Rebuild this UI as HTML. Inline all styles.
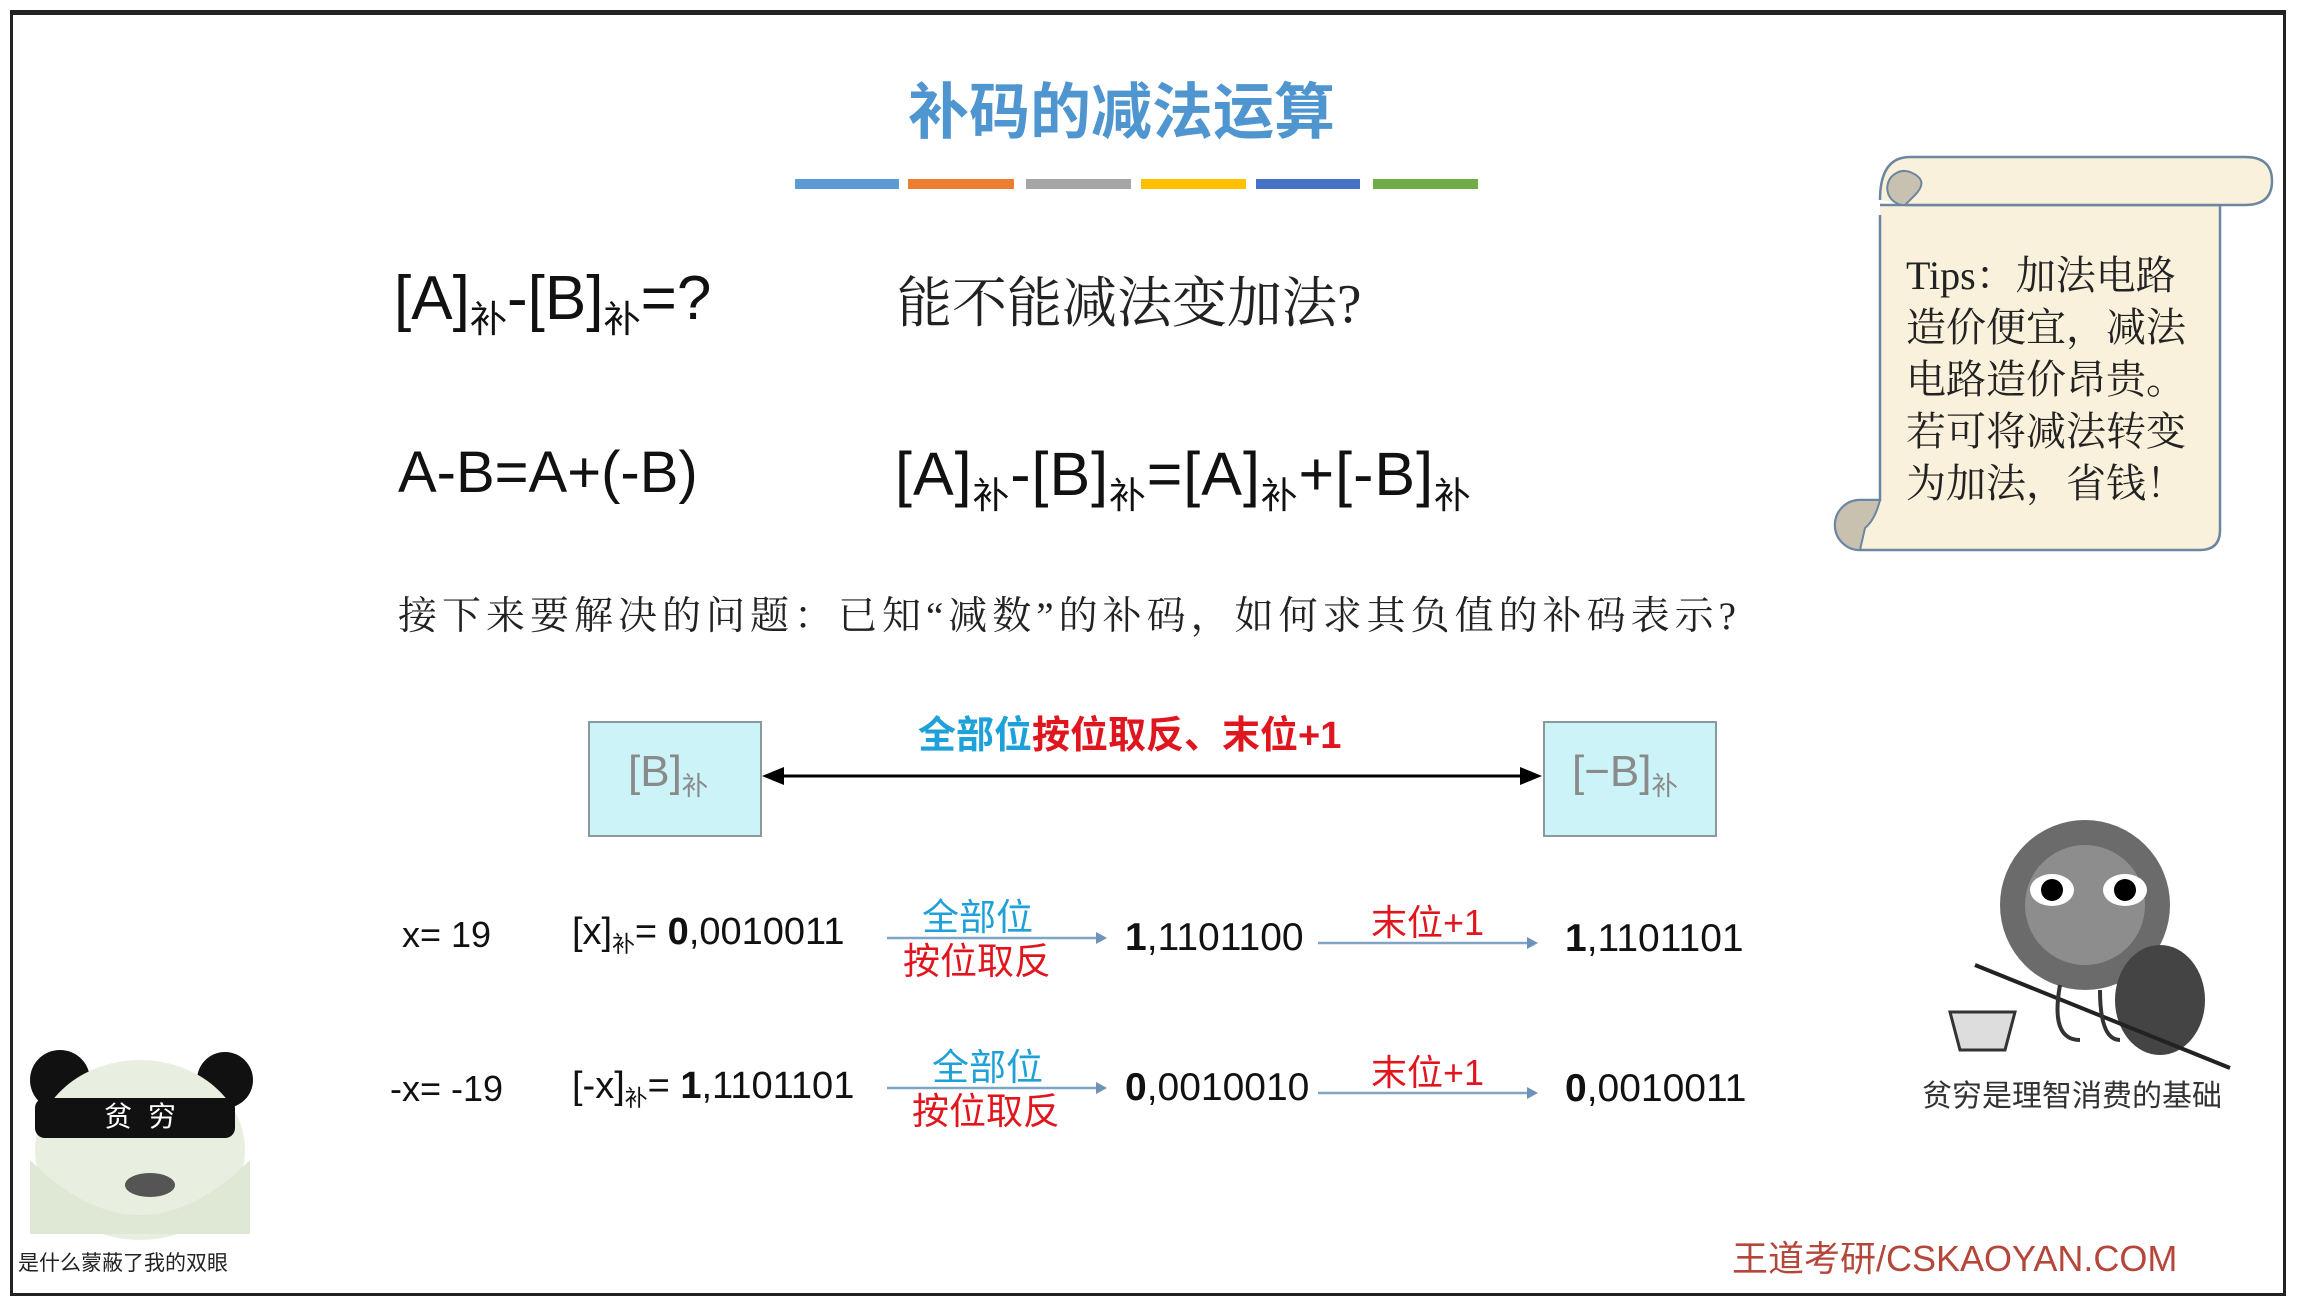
<!DOCTYPE html>
<html><head><meta charset="utf-8"><style>
body{margin:0;width:2306px;height:1300px;background:#fff;position:relative;overflow:hidden;font-family:"Liberation Sans","Noto Sans CJK SC",sans-serif;}
.a{position:absolute;white-space:nowrap;line-height:1;}
.s{font-family:"Liberation Serif","Noto Serif CJK SC",serif;}
sub{font-size:0.6em;vertical-align:-0.35em;}
.bar{position:absolute;top:179px;height:10px;}
.blue{color:#1ea0d8}.red{color:#e0161e}
</style></head><body>
<div style="position:absolute;left:10px;top:10px;width:2270px;height:1278px;border:3px solid #222;border-top-width:5px;"></div>

<div class="a" style="left:908px;top:82px;font-size:61px;color:#4f95cf;font-weight:bold;">补码的减法运算</div>
<div class="bar" style="left:795px;width:104px;background:#5b9bd5"></div>
<div class="bar" style="left:908px;width:106px;background:#ed7d31"></div>
<div class="bar" style="left:1026px;width:105px;background:#a5a5a5"></div>
<div class="bar" style="left:1141px;width:105px;background:#ffc000"></div>
<div class="bar" style="left:1256px;width:104px;background:#4472c4"></div>
<div class="bar" style="left:1373px;width:105px;background:#70ad47"></div>

<div class="a" style="left:394px;top:268px;font-size:62px;color:#111;">[A]<sub>补</sub>-[B]<sub>补</sub>=?</div>
<div class="a s" style="left:897px;top:276px;font-size:55px;color:#222;">能不能减法变加法?</div>
<div class="a" style="left:398px;top:444px;font-size:58px;color:#111;">A-B=A+(-B)</div>
<div class="a" style="left:895px;top:444px;font-size:61px;color:#111;letter-spacing:1px;">[A]<sub>补</sub>-[B]<sub>补</sub>=[A]<sub>补</sub>+[-B]<sub>补</sub></div>
<div class="a s" style="left:398px;top:597px;font-size:39px;color:#222;letter-spacing:5px;">接下来要解决的问题：已知“减数”的补码，如何求其负值的补码表示?</div>

<div style="position:absolute;left:588px;top:721px;width:170px;height:112px;background:#ccf4f8;border:2px solid #8a9a9c;"></div>
<div class="a" style="left:628px;top:750px;font-size:44px;color:#8a8a8a;">[B]<sub>补</sub></div>
<div style="position:absolute;left:1543px;top:721px;width:170px;height:112px;background:#ccf4f8;border:2px solid #8a9a9c;"></div>
<div class="a" style="left:1572px;top:750px;font-size:44px;color:#8a8a8a;">[−B]<sub>补</sub></div>
<svg style="position:absolute;left:0;top:0" width="2306" height="1300">
<line x1="775" y1="776" x2="1528" y2="776" stroke="#000" stroke-width="3"/>
<polygon points="762,776 784,767 784,785" fill="#000"/>
<polygon points="1542,776 1520,767 1520,785" fill="#000"/>
<g stroke="#7fa4c4" stroke-width="2.5" fill="#6d94b8">
<line x1="887" y1="938" x2="1098" y2="938"/><polygon points="1107,938 1096,932 1096,944" stroke="none"/>
<line x1="1318" y1="943" x2="1528" y2="943"/><polygon points="1538,943 1527,937 1527,949" stroke="none"/>
<line x1="887" y1="1088" x2="1098" y2="1088"/><polygon points="1107,1088 1096,1082 1096,1094" stroke="none"/>
<line x1="1318" y1="1093" x2="1528" y2="1093"/><polygon points="1538,1093 1527,1087 1527,1099" stroke="none"/>
</g>
<g stroke="#6b86a0" stroke-width="2.5" fill="#faf1dc">
<path d="M1880,215 L1880,500 L1860,500 A25,25 0 0 0 1860,550 L2200,550 Q2220,550 2220,530 L2220,205 L1880,205"/>
<path d="M1880,200 Q1880,157 1910,157 L2245,157 Q2272,157 2272,181 Q2272,205 2245,205 L1905,205"/>
</g>
<g stroke="#6b86a0" stroke-width="2" fill="#c9c1b0">
<path d="M1905,205 A17,17 0 1 1 1910,172 Q1930,180 1915,195 Z"/>
<path d="M1860,550 A25,25 0 0 1 1860,500 L1880,500 Q1875,520 1865,528 Z"/>
</g>
<g>
<circle cx="60" cy="1080" r="30" fill="#111"/><circle cx="225" cy="1080" r="28" fill="#111"/>
<ellipse cx="140" cy="1150" rx="105" ry="90" fill="#e8efe0"/>
<rect x="35" y="1098" width="200" height="40" rx="10" fill="#111"/>
<path d="M30,1160 Q140,1270 250,1160 L250,1234 L30,1234 Z" fill="#dfe7d5"/>
<ellipse cx="150" cy="1185" rx="25" ry="12" fill="#555"/>
</g>
<g>
<circle cx="2085" cy="905" r="85" fill="#6b6b6b"/>
<circle cx="2085" cy="905" r="60" fill="#8d8d8d"/>
<ellipse cx="2052" cy="890" rx="22" ry="16" fill="#fff"/><circle cx="2052" cy="890" r="11" fill="#000"/>
<ellipse cx="2125" cy="890" rx="22" ry="16" fill="#fff"/><circle cx="2125" cy="890" r="11" fill="#000"/>
<ellipse cx="2160" cy="1000" rx="45" ry="55" fill="#444"/>
<path d="M1975,965 L2230,1068" stroke="#222" stroke-width="4"/>
<path d="M1950,1012 L2015,1012 L2005,1050 L1960,1050 Z" fill="#ddd" stroke="#333" stroke-width="3"/>
<path d="M2060,985 Q2050,1040 2080,1040 M2100,990 Q2100,1040 2120,1040" stroke="#333" stroke-width="4" fill="none"/>
</g>
</svg>
<div class="a" style="left:104px;top:1103px;font-size:28px;color:#fff;letter-spacing:16px;">贫穷</div>

<div class="a" style="left:918px;top:717px;font-size:38px;font-weight:bold;"><span class="blue">全部位</span><span class="red">按位取反、末位+1</span></div>

<div class="a" style="left:402px;top:917px;font-size:36px;color:#111;">x= 19</div>
<div class="a" style="left:572px;top:913px;font-size:38px;color:#111;">[x]<sub>补</sub>= <b>0</b>,0010011</div>
<div class="a blue" style="left:922px;top:899px;font-size:37px;">全部位</div>
<div class="a red" style="left:903px;top:943px;font-size:37px;">按位取反</div>
<div class="a" style="left:1125px;top:918px;font-size:39px;color:#111;"><b>1</b>,1101100</div>
<div class="a red" style="left:1371px;top:905px;font-size:36px;">末位+1</div>
<div class="a" style="left:1565px;top:919px;font-size:39px;color:#111;"><b>1</b>,1101101</div>

<div class="a" style="left:390px;top:1071px;font-size:36px;color:#111;">-x= -19</div>
<div class="a" style="left:572px;top:1067px;font-size:38px;color:#111;">[-x]<sub>补</sub>= <b>1</b>,1101101</div>
<div class="a blue" style="left:932px;top:1049px;font-size:37px;">全部位</div>
<div class="a red" style="left:912px;top:1093px;font-size:37px;">按位取反</div>
<div class="a" style="left:1125px;top:1068px;font-size:39px;color:#111;"><b>0</b>,0010010</div>
<div class="a red" style="left:1371px;top:1055px;font-size:36px;">末位+1</div>
<div class="a" style="left:1565px;top:1069px;font-size:39px;color:#111;"><b>0</b>,0010011</div>

<div class="a s" style="left:1906px;top:250px;font-size:40px;color:#222;line-height:52px;">Tips：加法电路<br>造价便宜，减法<br>电路造价昂贵。<br>若可将减法转变<br>为加法，省钱！</div>

<div class="a" style="left:1922px;top:1082px;font-size:30px;color:#333;">贫穷是理智消费的基础</div>
<div class="a" style="left:18px;top:1253px;font-size:21px;color:#222;">是什么蒙蔽了我的双眼</div>
<div class="a" style="left:1732px;top:1241px;font-size:36px;color:#b5463a;">王道考研/CSKAOYAN.COM</div>
</body></html>
